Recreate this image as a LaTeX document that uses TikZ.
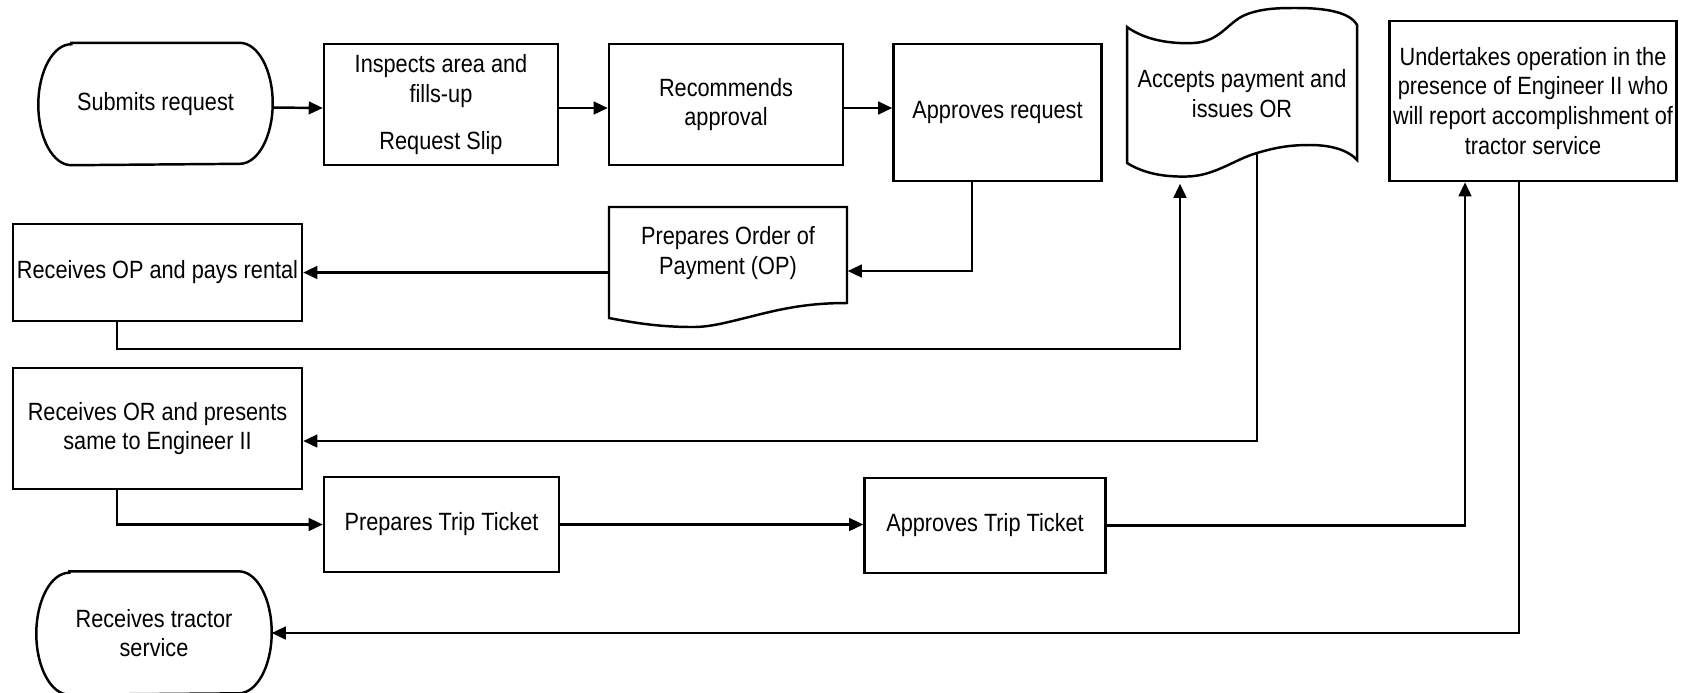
\documentclass[tikz,border=0pt]{standalone}
\usepackage{fontspec}
\setmainfont{Liberation Sans}[FakeStretch=0.87]
\usepackage{tikz}
\usetikzlibrary{arrows.meta}
\tikzstyle{none}=[inner sep=0pt]
\tikzstyle{process}=[rectangle,draw=black,line width=0.7pt,align=center,inner sep=1pt,font=\fontsize{7.1}{8.5}\selectfont]
\tikzstyle{textonly}=[rectangle,draw=none,align=center,inner sep=1pt,font=\fontsize{7.1}{8.5}\selectfont]
\tikzstyle{outline}=[-,line width=0.7pt]
\tikzstyle{flow}=[-{Triangle[length=4pt,width=3.6pt]},line width=0.7pt]
\pgfdeclarelayer{edgelayer}
\pgfdeclarelayer{nodelayer}
\pgfsetlayers{edgelayer,nodelayer,main}

\begin{document}
\begin{tikzpicture}
	\useasboundingbox (0,0) rectangle (16.90,-6.92);
	\begin{pgfonlayer}{nodelayer}
		% first row
		\node [style=textonly, minimum width=2.33cm, minimum height=1.21cm] (submit) at (1.555, -1.04) {Submits request};
		\node [style=process, minimum width=2.34cm, minimum height=1.21cm] (inspect) at (4.41, -1.045) {Inspects area and\\fills-up\\[0.17cm]Request Slip};
		\node [style=process, minimum width=2.34cm, minimum height=1.21cm] (recommend) at (7.26, -1.045) {Recommends\\approval};
		\node [style=process, minimum width=2.08cm, minimum height=1.37cm] (approve) at (9.975, -1.125) {Approves request};
		\node [style=textonly, minimum width=2.30cm, minimum height=1.78cm] (accept) at (12.42, -0.94) {Accepts payment and\\issues OR};
		\node [style=process, minimum width=2.85cm, minimum height=1.60cm] (undertake) at (15.33, -1.01) {Undertakes operation in the\\presence of Engineer II who\\will report accomplishment of\\tractor service};

		% second row
		\node [style=process, minimum width=2.89cm, minimum height=0.97cm, inner sep=0.3pt] (payop) at (1.575, -2.725) {Receives OP and pays rental};
		\node [style=textonly, minimum width=2.38cm, minimum height=0.92cm] (prepop) at (7.28, -2.53) {Prepares Order of\\Payment (OP)};

		% third row
		\node [style=process, minimum width=2.89cm, minimum height=1.21cm] (presentor) at (1.575, -4.285) {Receives OR and presents\\same to Engineer II};
		\node [style=process, minimum width=2.35cm, minimum height=0.95cm] (preptt) at (4.415, -5.245) {Prepares Trip Ticket};
		\node [style=process, minimum width=2.41cm, minimum height=0.95cm] (apprtt) at (9.85, -5.255) {Approves Trip Ticket};
		\node [style=textonly, minimum width=2.34cm, minimum height=1.22cm] (gettractor) at (1.54, -6.33) {Receives tractor\\service};

		% terminals
		\draw [style=outline] ([xshift=0.33cm]submit.north west) -- ([xshift=-0.33cm]submit.north east) arc [start angle=90, end angle=-90, x radius=0.33cm, y radius=0.605cm] -- ([xshift=0.33cm]submit.south west) arc [start angle=270, end angle=90, x radius=0.33cm, y radius=0.605cm] -- cycle;
		\draw [style=outline] ([xshift=0.33cm]gettractor.north west) -- ([xshift=-0.33cm]gettractor.north east) arc [start angle=90, end angle=-90, x radius=0.33cm, y radius=0.61cm] -- ([xshift=0.33cm]gettractor.south west) arc [start angle=270, end angle=90, x radius=0.33cm, y radius=0.61cm] -- cycle;
		% document
		\draw [style=outline] (6.09, -2.07) -- (8.47, -2.07) -- (8.47, -3.03) .. controls (8.10, -3.03) and (7.85, -3.08) .. (7.57, -3.15) .. controls (7.25, -3.23) and (7.10, -3.27) .. (6.93, -3.27) .. controls (6.60, -3.27) and (6.35, -3.23) .. (6.09, -3.18) -- cycle;
		% punched tape
		\draw [style=outline] (11.27, -0.27) .. controls (11.45, -0.40) and (11.70, -0.44) .. (11.93, -0.43) .. controls (12.20, -0.42) and (12.28, -0.22) .. (12.45, -0.15) .. controls (12.62, -0.08) and (12.80, -0.08) .. (12.97, -0.08) .. controls (13.25, -0.08) and (13.50, -0.12) .. (13.57, -0.25) -- (13.57, -1.60) .. controls (13.50, -1.52) and (13.35, -1.45) .. (13.10, -1.45) .. controls (12.95, -1.45) and (12.80, -1.46) .. (12.57, -1.53) .. controls (12.35, -1.59) and (12.15, -1.76) .. (11.87, -1.765) .. controls (11.65, -1.77) and (11.45, -1.74) .. (11.27, -1.63) -- cycle;
	\end{pgfonlayer}
	\begin{pgfonlayer}{edgelayer}
		\draw [style=flow] ([yshift=-0.035cm]submit.east) -- ([yshift=-0.035cm]inspect.west);
		\draw [style=flow] ([yshift=-0.035cm]inspect.east) -- ([yshift=-0.035cm]recommend.west);
		\draw [style=flow] ([yshift=-0.035cm]recommend.east) -- ([yshift=-0.035cm]recommend.east -| approve.west);
		\draw [style=flow] ([xshift=-0.255cm]approve.south) |- ([yshift=-0.18cm]prepop.east);
		\draw [style=flow] (prepop.west |- payop.east) -- (payop.east);
		\draw [style=flow] ([xshift=-0.405cm]payop.south) -- ++(0, -0.27) -| ([xshift=-0.62cm]accept.south);
		\draw [style=flow] ([xshift=0.15cm, yshift=0.30cm]accept.south) |- ([yshift=-0.125cm]presentor.east);
		\draw [style=flow] ([xshift=-0.405cm]presentor.south) |- (preptt.west);
		\draw [style=flow] (preptt.east) -- (preptt.east -| apprtt.west);
		\draw [style=flow] (apprtt.east) -| ([xshift=-0.68cm]undertake.south);
		\draw [style=flow] ([xshift=-0.14cm]undertake.south) |- (gettractor.east);
	\end{pgfonlayer}
\end{tikzpicture}
\end{document}
